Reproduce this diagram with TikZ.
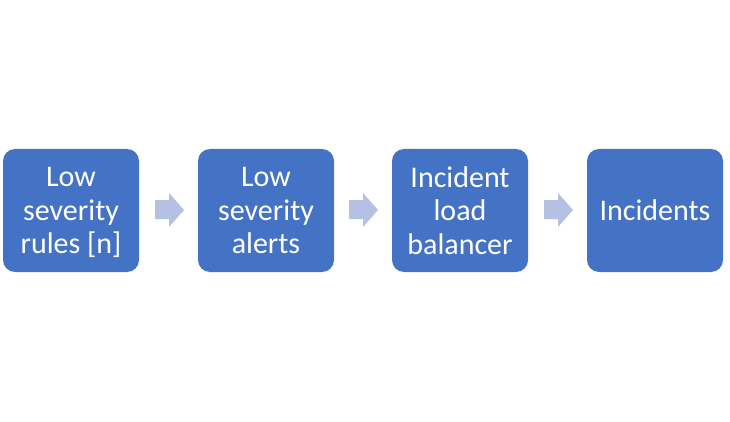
\documentclass[tikz,border=0pt]{standalone}
\usepackage{fontspec}
\setmainfont{Carlito}
\begin{document}
\begin{tikzpicture}[x=1pt,y=-1pt,
  box/.style={fill=boxblue, rounded corners=12pt, minimum width=136pt, minimum height=123pt,
    text=white, align=center, font=\fontsize{30}{33.5}\selectfont, inner sep=0pt, text depth=0pt},
  chev/.style={fill=arrowblue, draw=none}]
\definecolor{boxblue}{HTML}{4472C4}
\definecolor{arrowblue}{HTML}{B4C1E2}
\useasboundingbox (0,0) rectangle (730,422);
\node[box] (a) at (71,210.5) {Low\\severity\\rules [n]};
\node[box] (b) at (266,210.5) {Low\\severity\\alerts};
\node[box] (c) at (460,210.5) {Incident\\load\\balancer};
\node[box] (d) at (655,210.5) {Incidents};
\foreach \x in {155,349,544}{
  \fill[chev] (\x,200) -- (\x+14,200) -- (\x+14,193) -- (\x+29,210) -- (\x+14,227) -- (\x+14,219) -- (\x,219) -- cycle;
}
\end{tikzpicture}
\end{document}
